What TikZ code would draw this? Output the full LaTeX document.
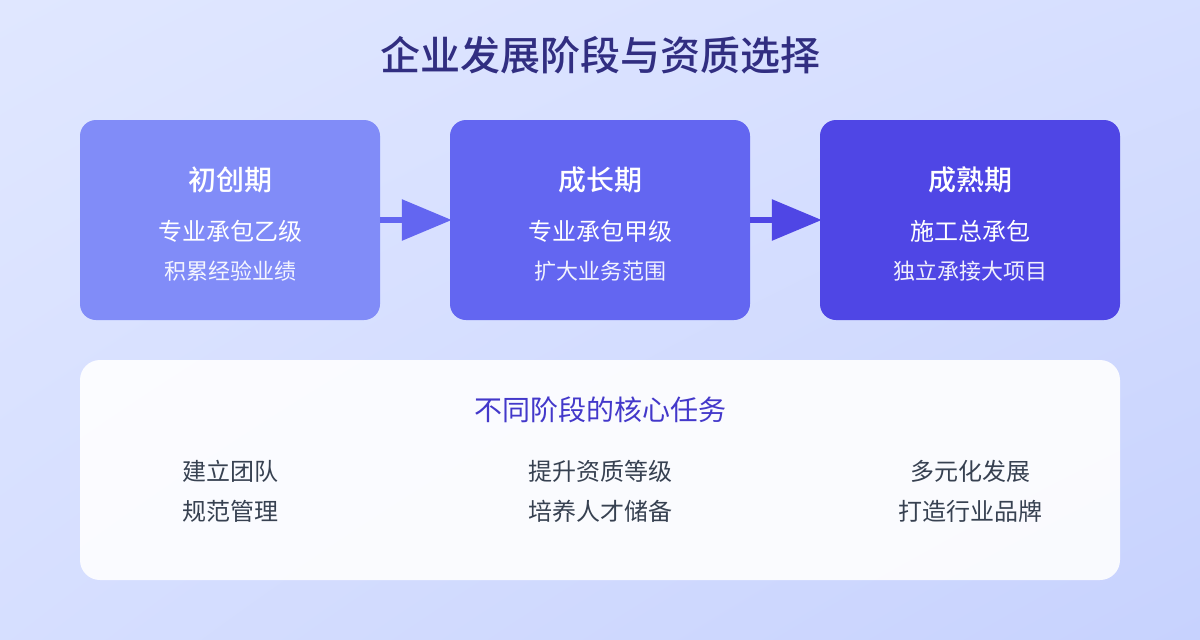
\documentclass[tikz,border=0pt]{standalone}
\usepackage{fontspec}
\setmainfont{Noto Sans CJK SC}
\newfontfamily\medfont{Noto Sans CJK SC Medium}
\usetikzlibrary{arrows.meta,shadings}
\definecolor{bgA}{HTML}{E0E7FF}
\definecolor{bgB}{HTML}{C7D2FE}
\definecolor{cA}{HTML}{818CF8}
\definecolor{cB}{HTML}{6366F1}
\definecolor{cC}{HTML}{4F46E5}
\definecolor{titlec}{HTML}{312E81}
\definecolor{subc}{HTML}{4338CA}
\definecolor{itemc}{HTML}{374151}
\tikzset{
  stagebox/.style={rounded corners=16pt, minimum width=300pt, minimum height=200pt, inner sep=0pt},
  stagetitle/.style={text=white, font=\fontsize{28}{32}\selectfont\medfont},
  stagemain/.style={text=white, font=\fontsize{24}{28}\selectfont},
  stagesub/.style={text=white, text opacity=0.92, font=\fontsize{22}{26}\selectfont},
  itemtext/.style={text=itemc, font=\fontsize{24}{28}\selectfont},
  flow/.style={line width=6pt, -{Triangle[length=50pt,width=40pt]}, shorten >=-2pt},
}
\begin{document}
\begin{tikzpicture}[x=1pt,y=-1pt]
\useasboundingbox (0,0) rectangle (1200,640);
\shade[upper left=bgA, lower left=bgA!60!bgB, upper right=bgA!60!bgB, lower right=bgB] (0,0) rectangle (1200,640);
\node[text=titlec, font=\fontsize{40}{46}\selectfont\medfont] (title) at (600,55) {企业发展阶段与资质选择};
% stage boxes
\node[stagebox, fill=cA] (b1) at (230,220) {};
\node[stagebox, fill=cB] (b2) at (600,220) {};
\node[stagebox, fill=cC] (b3) at (970,220) {};
\node[stagetitle] (t1) at (230,180) {初创期};
\node[stagemain] (m1) at (230,231) {专业承包乙级};
\node[stagesub] (s1) at (230,271) {积累经验业绩};
\node[stagetitle] (t2) at (600,180) {成长期};
\node[stagemain] (m2) at (600,231) {专业承包甲级};
\node[stagesub] (s2) at (600,271) {扩大业务范围};
\node[stagetitle] (t3) at (970,180) {成熟期};
\node[stagemain] (m3) at (970,231) {施工总承包};
\node[stagesub] (s3) at (970,271) {独立承接大项目};
\draw[flow, draw=cB, fill=cB] (b1.east) -- (b2.west);
\draw[flow, draw=cC, fill=cC] (b2.east) -- (b3.west);
% bottom panel
\node[fill=white, fill opacity=0.9, rounded corners=20pt, minimum width=1040pt, minimum height=220pt, inner sep=0pt] (panel) at (600,470) {};
\node[text=subc, font=\fontsize{28}{32}\selectfont] (ptitle) at (600,410) {不同阶段的核心任务};
\node[itemtext] (i11) at (230,471) {建立团队};
\node[itemtext] (i12) at (230,511) {规范管理};
\node[itemtext] (i21) at (600,471) {提升资质等级};
\node[itemtext] (i22) at (600,511) {培养人才储备};
\node[itemtext] (i31) at (970,471) {多元化发展};
\node[itemtext] (i32) at (970,511) {打造行业品牌};
\end{tikzpicture}
\end{document}
